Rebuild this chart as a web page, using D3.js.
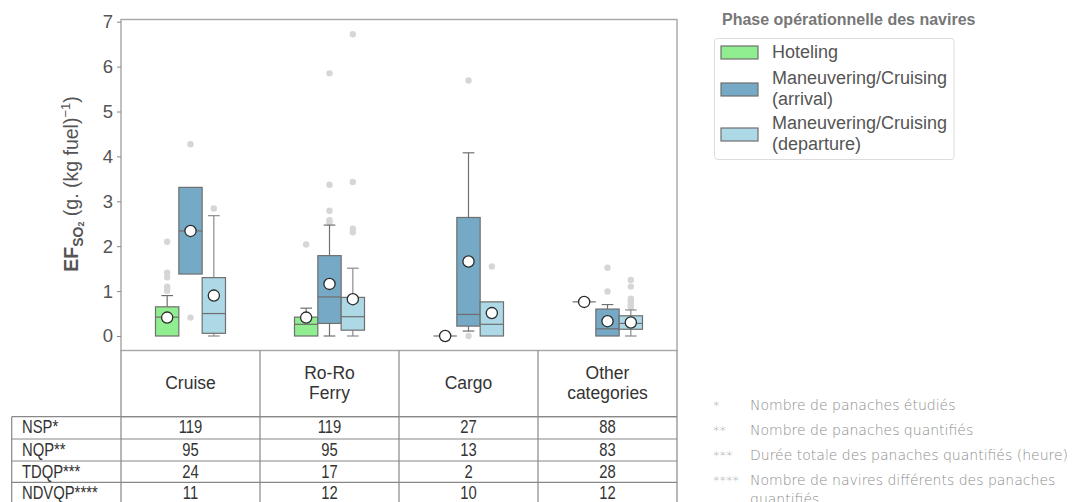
<!DOCTYPE html>
<html>
<head>
<meta charset="utf-8">
<script src="https://cdn.jsdelivr.net/npm/d3@7"></script>
<style>
  html, body { margin: 0; padding: 0; background: #fff; overflow: hidden; }
  svg { display: block; }
</style>
</head>
<body>
<svg id="chart" width="1072" height="502"></svg>
<script>
// Ship categories and operational phases
const categories = ["Cruise", "Ro-Ro Ferry", "Cargo", "Other categories"];
const categoryLines = [["Cruise"], ["Ro-Ro", "Ferry"], ["Cargo"], ["Other", "categories"]];
const phases = ["Hoteling", "Maneuvering/Cruising (arrival)", "Maneuvering/Cruising (departure)"];
const phaseLines = [["Hoteling"], ["Maneuvering/Cruising", "(arrival)"], ["Maneuvering/Cruising", "(departure)"]];
const phaseColors = ["#90ee90", "#76a9c5", "#add8e6"];

// Box statistics per category: [whiskerLow, q1, median, q3, whiskerHigh, mean]
const hotelingStats = [
  [0.00, 0.00, 0.42, 0.65, 0.90, 0.41],
  [0.00, 0.00, 0.26, 0.42, 0.62, 0.41],
  [0.00, 0.00, 0.00, 0.00, 0.00, 0.00],
  [0.76, 0.76, 0.76, 0.76, 0.76, 0.76]
];
const arrivalStats = [
  [1.38, 1.38, 2.34, 3.31, 3.31, 2.34],
  [0.00, 0.28, 0.87, 1.79, 2.47, 1.16],
  [0.11, 0.22, 0.48, 2.64, 4.08, 1.66],
  [0.00, 0.00, 0.16, 0.60, 0.70, 0.33]
];
const departureStats = [
  [0.00, 0.06, 0.50, 1.30, 2.68, 0.90],
  [0.00, 0.13, 0.43, 0.86, 1.51, 0.82],
  [0.00, 0.00, 0.26, 0.76, 0.76, 0.51],
  [0.00, 0.15, 0.28, 0.45, 0.58, 0.30]
];

// Outliers per category
const hotelingOutliers = [[2.10, 1.41, 1.31, 1.10, 1.05, 1.01], [2.04], [], []];
const arrivalOutliers = [[4.27, 0.41], [5.85, 3.37, 2.79, 2.58, 2.53], [5.69, 0.00], [1.52, 0.99]];
const departureOutliers = [[2.84], [6.72, 3.43, 2.39, 2.31], [1.55], [1.25, 1.10, 0.83, 0.77, 0.72, 0.68, 0.64]];

// Summary table below the plot
const tableRowLabels = ["NSP*", "NQP**", "TDQP***", "NDVQP****"];
const nspValues = [119, 119, 27, 88];
const nqpValues = [95, 95, 13, 83];
const tdqpValues = [24, 17, 2, 28];
const ndvqpValues = [11, 12, 10, 12];

const yTicks = [0, 1, 2, 3, 4, 5, 6, 7];

const footnoteMarks = ["*", "**", "***", "****"];
const footnoteTexts = [
  ["Nombre de panaches  étudiés"],
  ["Nombre de panaches quantifiés"],
  ["Durée totale des panaches quantifiés (heure)"],
  ["Nombre de navires différents des panaches", "quantifiés"]
];

const svg = d3.select("#chart");
const font = "'Liberation Sans', Arial, sans-serif";

const plot = { left: 121, right: 677, top: 19.5, bottom: 350.5 };

const x = d3.scaleBand().domain(categories).range([plot.left, plot.right]).padding(0);
const xPhase = d3.scaleBand().domain(phases).range([-35, 35]).padding(0);
const y = d3.scaleLinear().domain([0, 7]).range([336, 21.7]);

const statsByPhase = [hotelingStats, arrivalStats, departureStats];
const outliersByPhase = [hotelingOutliers, arrivalOutliers, departureOutliers];

// Plot frame
svg.append("rect")
  .attr("x", plot.left).attr("y", plot.top)
  .attr("width", plot.right - plot.left).attr("height", plot.bottom - plot.top)
  .attr("fill", "none").attr("stroke", "#a6a6a6").attr("stroke-width", 1.4);

// Y axis
const yAxis = svg.append("g")
  .attr("transform", `translate(${plot.left},0)`)
  .call(d3.axisLeft(y).tickValues(yTicks).tickSize(4).tickPadding(4).tickFormat(d3.format("d")));
yAxis.select(".domain").remove();
yAxis.selectAll(".tick line").attr("stroke", "#888");
yAxis.selectAll(".tick text").attr("fill", "#555").style("font-family", font).style("font-size", "18.5px");

// Y label
const yLabel = svg.append("text")
  .attr("transform", "translate(78,184) rotate(-90)")
  .attr("text-anchor", "middle")
  .attr("fill", "#555")
  .style("font-family", font).style("font-size", "19.5px");
yLabel.append("tspan").attr("font-weight", "bold").text("EF");
yLabel.append("tspan").attr("dy", 5).attr("font-weight", "bold").style("font-size", "14px").text("SO");
yLabel.append("tspan").attr("dy", 1).style("font-size", "9px").attr("font-weight", "bold").text("2");
yLabel.append("tspan").attr("dy", -6).text(" (g. (kg fuel)");
yLabel.append("tspan").attr("dy", -8).style("font-size", "13px").text("−1");
yLabel.append("tspan").attr("dy", 8).text(")");

// Boxes
const edge = "#6f6f6f";
const boxW = xPhase.bandwidth();
categories.forEach((cat, ci) => {
  const cx = x(cat) + x.bandwidth() / 2;
  phases.forEach((ph, pi) => {
    const s = statsByPhase[pi][ci];
    const [lo, q1, med, q3, hi, mean] = s;
    const x0 = cx + xPhase(ph);
    const xm = x0 + boxW / 2;
    const g = svg.append("g");
    // outliers
    g.selectAll("circle.out").data(outliersByPhase[pi][ci]).join("circle")
      .attr("cx", xm).attr("cy", d => y(d)).attr("r", 3.2).attr("fill", "#d6d6d6");
    // whiskers
    const capHalf = boxW * 0.25;
    const wColor = pi === 2 ? "#8c8c8c" : edge;
    if (hi > q3) {
      g.append("line").attr("x1", xm).attr("x2", xm).attr("y1", y(q3)).attr("y2", y(hi)).attr("stroke", wColor).attr("stroke-width", 1.2);
      g.append("line").attr("x1", xm - capHalf).attr("x2", xm + capHalf).attr("y1", y(hi)).attr("y2", y(hi)).attr("stroke", wColor).attr("stroke-width", 1.2);
    }
    if (lo < q1) {
      g.append("line").attr("x1", xm).attr("x2", xm).attr("y1", y(q1)).attr("y2", y(lo)).attr("stroke", wColor).attr("stroke-width", 1.2);
      g.append("line").attr("x1", xm - capHalf).attr("x2", xm + capHalf).attr("y1", y(lo)).attr("y2", y(lo)).attr("stroke", wColor).attr("stroke-width", 1.2);
    }
    // box
    if (q3 > q1) {
      g.append("rect").attr("x", x0).attr("y", y(q3)).attr("width", boxW).attr("height", y(q1) - y(q3))
        .attr("fill", phaseColors[pi]).attr("stroke", edge).attr("stroke-width", 1.2);
    }
    // median
    g.append("line").attr("x1", x0).attr("x2", x0 + boxW).attr("y1", y(med)).attr("y2", y(med))
      .attr("stroke", edge).attr("stroke-width", 1.2);
    // mean marker
    g.append("circle").attr("cx", xm).attr("cy", y(mean)).attr("r", 5.6)
      .attr("fill", "#fff").attr("stroke", "#2b2b2b").attr("stroke-width", 1.3);
  });
});

// Category table
const tableStroke = "#888";
const catTop = plot.bottom, catBottom = 416.7;
svg.append("line").attr("x1", plot.left).attr("x2", plot.right).attr("y1", catBottom).attr("y2", catBottom).attr("stroke", tableStroke).attr("stroke-width", 1.2);
const colEdges = categories.map(c => x(c)).concat([plot.right]);
colEdges.forEach(cx => {
  svg.append("line").attr("x1", cx).attr("x2", cx).attr("y1", catTop).attr("y2", 502).attr("stroke", tableStroke).attr("stroke-width", 1.2);
});
categories.forEach((cat, ci) => {
  const lines = categoryLines[ci];
  const cx = x(cat) + x.bandwidth() / 2;
  const t = svg.append("text").attr("text-anchor", "middle").attr("fill", "#333")
    .style("font-family", font).style("font-size", "17.5px");
  const startY = 389 - (lines.length - 1) * 10;
  lines.forEach((ln, li) => {
    t.append("tspan").attr("x", cx).attr("y", startY + li * 20).text(ln);
  });
});

// Data table (condensed text)
const rowEdges = [416.7, 439, 461, 482.3, 504];
const tableLeft = 11.7;
rowEdges.forEach(ry => {
  svg.append("line").attr("x1", tableLeft).attr("x2", plot.right).attr("y1", ry).attr("y2", ry).attr("stroke", tableStroke).attr("stroke-width", 1.2);
});
svg.append("line").attr("x1", tableLeft).attr("x2", tableLeft).attr("y1", rowEdges[0]).attr("y2", 504).attr("stroke", tableStroke).attr("stroke-width", 1.2);
const rowValues = [nspValues, nqpValues, tdqpValues, ndvqpValues];
const squeeze = 0.8;
tableRowLabels.forEach((lab, ri) => {
  const cy = rowEdges[ri] + 16.5;
  svg.append("text").attr("transform", `translate(22,${cy}) scale(${squeeze},1)`).attr("fill", "#333")
    .style("font-family", font).style("font-size", "18.5px").text(lab);
  rowValues[ri].forEach((v, ci) => {
    svg.append("text")
      .attr("transform", `translate(${x(categories[ci]) + x.bandwidth() / 2},${cy}) scale(${squeeze},1)`)
      .attr("text-anchor", "middle").attr("fill", "#333")
      .style("font-family", font).style("font-size", "18.5px").text(v);
  });
});

// Legend
svg.append("text").attr("x", 722).attr("y", 25).attr("fill", "#777").attr("font-weight", "bold")
  .style("font-family", font).style("font-size", "16px").text("Phase opérationnelle des navires");
svg.append("rect").attr("x", 714.5).attr("y", 38.5).attr("width", 239.5).attr("height", 121).attr("rx", 3)
  .attr("fill", "#fff").attr("stroke", "#dcdcdc").attr("stroke-width", 1);
const patchY = [46, 83, 128];
const labelY = [[58], [84, 105], [129, 150]];
phases.forEach((ph, pi) => {
  svg.append("rect").attr("x", 721).attr("y", patchY[pi]).attr("width", 37).attr("height", 13)
    .attr("fill", phaseColors[pi]).attr("stroke", edge).attr("stroke-width", 1.2);
  phaseLines[pi].forEach((ln, li) => {
    svg.append("text").attr("x", 772).attr("y", labelY[pi][li]).attr("fill", "#555")
      .style("font-family", font).style("font-size", "18px").text(ln);
  });
});

// Footnotes
const fnFont = "'DejaVu Sans', sans-serif";
const fnY = [410, 435, 460, 485];
footnoteMarks.forEach((m, i) => {
  svg.append("text").attr("x", 713).attr("y", fnY[i]).attr("fill", "#9a9a9a")
    .style("font-family", fnFont).style("font-weight", 200).style("font-size", "13px").text(m);
  footnoteTexts[i].forEach((ln, li) => {
    svg.append("text").attr("x", 750).attr("y", fnY[i] + li * 19).attr("fill", "#8c8c8c")
      .style("font-family", fnFont).style("font-weight", 200).style("font-size", "14px").text(ln);
  });
});
</script>
</body>
</html>
